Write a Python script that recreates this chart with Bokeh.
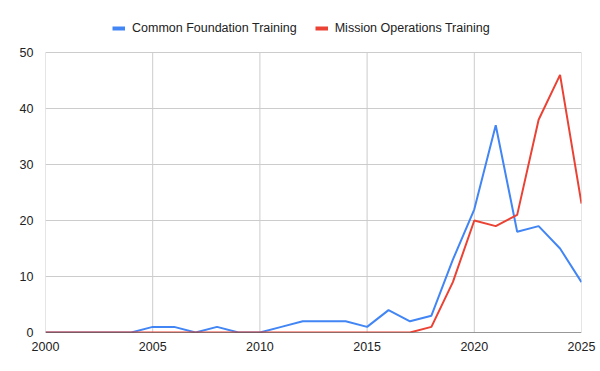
from bokeh.plotting import figure
from bokeh.models import Range1d, FixedTicker, Legend, LegendItem, Span
from bokeh.embed import file_html
from bokeh.resources import INLINE

years = list(range(2000, 2026))
common_foundation = [0, 0, 0, 0, 0, 1, 1, 0, 1, 0, 0, 1, 2, 2, 2, 1, 4, 2, 3, 13, 22, 37, 18, 19, 15, 9]
mission_operations = [0, 0, 0, 0, 0, 0, 0, 0, 0, 0, 0, 0, 0, 0, 0, 0, 0, 0, 1, 9, 20, 19, 21, 38, 46, 23]
x_ticks = [2000, 2005, 2010, 2015, 2020, 2025]
y_ticks = [0, 10, 20, 30, 40, 50]
series_names = ["Common Foundation Training", "Mission Operations Training"]
series_colors = ["#4285F4", "#EA4335"]

Y_MAX = 50
FRAME_TOP_PAD = 322 / 5.6  # leaves room for the legend above the 50 gridline
FONT = "Liberation Sans"
FONT_SIZE = "12.5px"

p = figure(width=600, height=371, output_backend="svg", toolbar_location=None,
           x_range=Range1d(2000, 2025), y_range=Range1d(0, FRAME_TOP_PAD))
p.min_border_left = 45
p.min_border_right = 19
p.min_border_bottom = 39
p.min_border_top = 10
p.outline_line_color = None
p.background_fill_color = "white"
p.border_fill_color = "white"

for ax in (p.xaxis[0], p.yaxis[0]):
    ax.axis_line_color = None
    ax.major_tick_line_color = None
    ax.minor_tick_line_color = None
    ax.major_label_text_font = FONT
    ax.major_label_text_font_size = FONT_SIZE
    ax.major_label_text_color = "#222222"
p.xaxis.ticker = FixedTicker(ticks=x_ticks)
p.yaxis.ticker = FixedTicker(ticks=y_ticks)
p.xaxis.major_label_standoff = 3
p.yaxis.major_label_standoff = 6

p.xgrid.grid_line_color = None
p.ygrid.ticker = FixedTicker(ticks=y_ticks)
p.ygrid.grid_line_color = "#cccccc"
# vertical gridlines, only up to the top gridline
p.segment(x0=x_ticks, y0=[0] * len(x_ticks), x1=x_ticks, y1=[Y_MAX] * len(x_ticks),
          line_color="#cccccc", line_width=1)

p.add_layout(Span(location=0, dimension="width", line_color="#333333", line_width=1))

p.line(years, common_foundation, line_color=series_colors[0], line_width=2)
p.line(years, mission_operations, line_color=series_colors[1], line_width=2)

# legend swatches: single-point lines (draw nothing in the plot), thicker key
k1 = p.line(x=years[:1], y=common_foundation[:1], line_color=series_colors[0], line_width=4)
k2 = p.line(x=years[:1], y=mission_operations[:1], line_color=series_colors[1], line_width=4)

legend = Legend(items=[LegendItem(label=series_names[0], renderers=[k1]),
                       LegendItem(label=series_names[1], renderers=[k2])],
                orientation="horizontal", location=(67, 297),
                label_text_font=FONT, label_text_font_size=FONT_SIZE,
                label_text_color="#222222", glyph_width=13, glyph_height=14,
                spacing=18, border_line_color=None, background_fill_alpha=0,
                padding=2, margin=0, label_standoff=7)
p.add_layout(legend)

open("out.html", "w").write(file_html(p, INLINE))
